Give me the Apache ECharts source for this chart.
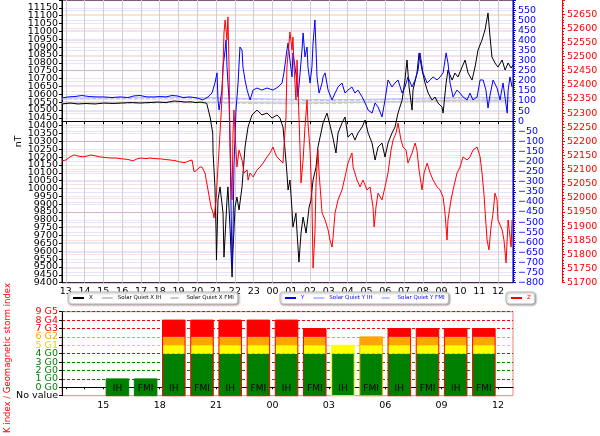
<!DOCTYPE html>
<html><head><meta charset="utf-8">
<script src="https://cdn.jsdelivr.net/npm/echarts@6/dist/echarts.min.js"></script>
<style>html,body{margin:0;padding:0;background:#fff}#c{width:600px;height:436px}</style>
</head><body><div id="c"></div>
<script>
// ---- data (hours since day-1 midnight; 24 = 00 next day) ----
const hourTicks = [13,14,15,16,17,18,19,20,21,22,23,24,25,26,27,28,29,30,31,32,33,34,35,36];
const kTickLabels = [15,18,21,24,27,30,33,36];
// left-axis tick labels (split in two interleaved sets so none get dropped)
const leftLabelsA = [9400,9500,9600,9700,9800,9900,10000,10100,10200,10300,10400,10500,10600,10700,10800,10900,11000,11100];
const leftLabelsB = [9450,9550,9650,9750,9850,9950,10050,10150,10250,10350,10450,10550,10650,10750,10850,10950,11050,11150];
const kLabelsA = [-1,1,3,5,7,9];
const kLabelsB = [0,2,4,6,8];

const xTimes = [12.80,13.23,13.65,14.08,14.56,15.04,15.51,15.99,16.47,16.95,17.43,17.91,18.33,18.76,19.08,19.40,19.61,19.93,20.20,20.50,20.68,20.82,20.84,20.94,21.00,21.02,21.10,21.21,21.37,21.42,21.58,21.63,21.74,21.85,21.90,22.01,22.11,22.22,22.38,22.54,22.70,22.91,23.18,23.44,23.71,23.98,24.24,24.40,24.56,24.67,24.77,24.83,24.93,25.04,25.09,25.25,25.31,25.41,25.52,25.63,25.79,25.95,26.05,26.16,26.32,26.42,26.58,26.69,26.90,27.06,27.22,27.38,27.49,27.70,27.86,28.02,28.23,28.39,28.55,28.77,28.93,29.09,29.30,29.46,29.62,29.83,29.99,30.15,30.36,30.52,30.68,30.90,31.05,31.16,31.27,31.43,31.48,31.69,31.80,31.96,32.12,32.28,32.49,32.65,32.81,33.02,33.08,33.24,33.34,33.56,33.71,33.87,34.09,34.25,34.41,34.62,34.78,34.94,35.15,35.31,35.47,35.58,35.68,35.84,36.00,36.22,36.38,36.54,36.70,36.80];
const xVals = [10538,10544,10538,10541,10538,10544,10541,10544,10547,10544,10547,10550,10547,10557,10554,10550,10552,10547,10550,10542,10455,10353,10226,10010,9716,9544,9926,10010,9843,9563,9926,10010,9754,9436,9608,9882,9945,9863,10010,10264,10391,10468,10499,10468,10480,10448,10468,10448,10391,10245,10098,9990,10054,9863,9754,9843,9716,9531,9716,9818,9716,9882,9926,10054,10136,10264,10353,10417,10480,10404,10321,10226,10353,10417,10455,10327,10353,10308,10353,10391,10436,10353,10289,10181,10264,10289,10200,10289,10353,10391,10480,10563,10690,10818,10646,10499,10627,10735,10862,10754,10671,10608,10563,10582,10544,10519,10480,10671,10754,10690,10735,10710,10773,10818,10735,10690,10773,10882,10945,11009,11117,10964,10837,10799,10773,10818,10754,10799,10767,10786];

const yTimes = [12.80,13.12,13.49,13.86,14.24,14.61,15.04,15.46,15.89,16.31,16.63,16.95,17.32,17.70,18.02,18.33,18.65,18.92,19.24,19.61,19.98,20.30,20.57,20.78,20.94,21.05,21.10,21.16,21.31,21.37,21.48,21.53,21.58,21.69,21.74,21.79,21.85,21.90,21.95,22.06,22.17,22.27,22.38,22.43,22.54,22.65,22.81,22.97,23.18,23.44,23.71,24.03,24.30,24.51,24.61,24.77,24.83,24.93,25.04,25.09,25.20,25.31,25.36,25.47,25.57,25.63,25.73,25.84,25.89,26.00,26.10,26.16,26.26,26.32,26.37,26.48,26.64,26.69,26.80,26.96,27.17,27.33,27.49,27.70,27.86,28.02,28.23,28.39,28.55,28.77,28.93,29.09,29.30,29.46,29.62,29.83,29.99,30.15,30.36,30.52,30.68,30.90,31.05,31.21,31.43,31.59,31.75,31.85,32.01,32.23,32.39,32.55,32.76,32.92,33.08,33.24,33.34,33.45,33.61,33.82,33.98,34.14,34.36,34.51,34.67,34.89,35.05,35.21,35.36,35.47,35.58,35.74,35.95,36.11,36.27,36.49,36.54,36.64,36.75];
const yVals = [115,120,122,127,122,120,120,117,120,117,125,127,120,120,122,120,127,125,117,120,115,105,120,139,189,239,105,55,154,268,352,402,268,105,-93,-390,-722,-554,-227,55,189,367,352,268,204,154,105,154,164,154,164,154,169,189,239,352,387,303,219,338,268,189,120,239,352,437,318,367,268,189,268,387,501,352,219,139,189,219,239,154,105,139,169,189,139,154,169,139,154,120,90,55,40,90,70,21,105,204,169,189,204,139,169,219,169,204,253,338,239,189,204,219,204,219,239,338,288,189,120,154,139,120,105,139,105,120,204,204,154,65,130,204,164,105,189,40,154,219,169];

const zTimes = [12.80,13.01,13.23,13.44,13.65,13.92,14.13,14.34,14.61,14.82,15.09,15.35,15.67,15.99,16.31,16.58,16.79,17.00,17.27,17.48,17.75,18.02,18.28,18.55,18.81,19.08,19.35,19.56,19.72,19.83,19.98,20.14,20.25,20.41,20.57,20.73,20.84,20.89,21.00,21.10,21.21,21.31,21.37,21.42,21.48,21.58,21.63,21.69,21.71,21.74,21.79,21.85,21.90,21.95,22.06,22.11,22.22,22.38,22.49,22.65,22.70,22.81,22.97,23.18,23.34,23.50,23.71,23.87,24.03,24.14,24.24,24.40,24.56,24.61,24.72,24.77,24.88,24.93,25.04,25.09,25.15,25.25,25.31,25.41,25.47,25.52,25.63,25.73,25.84,25.89,26.00,26.10,26.16,26.26,26.32,26.42,26.48,26.64,26.80,26.96,27.06,27.17,27.22,27.33,27.49,27.70,27.86,28.02,28.23,28.29,28.50,28.66,28.82,29.03,29.19,29.35,29.41,29.51,29.62,29.83,29.99,30.15,30.31,30.42,30.58,30.68,30.84,30.95,31.11,31.21,31.43,31.59,31.69,31.80,31.96,32.07,32.23,32.39,32.55,32.76,32.92,33.08,33.18,33.29,33.34,33.50,33.61,33.82,33.98,34.14,34.36,34.51,34.67,34.89,35.05,35.15,35.26,35.31,35.42,35.52,35.63,35.74,35.84,35.95,36.00,36.22,36.32,36.43,36.54,36.70,36.75];
const zVals = [52131,52134,52145,52152,52148,52145,52148,52152,52148,52145,52143,52141,52141,52138,52136,52131,52138,52141,52139,52141,52139,52138,52136,52134,52132,52127,52125,52131,52134,52092,52099,52109,52109,52088,52028,51968,51947,51929,51993,52109,52230,52346,52463,52583,52629,52559,52640,52463,52346,52205,52088,51993,52230,52311,52169,52109,52169,52134,52088,52099,52063,52088,52074,52099,52109,52123,52145,52159,52180,52159,52145,52134,52123,52180,52286,52463,52548,52587,52523,52569,52463,52346,52488,52286,52169,52053,52134,52251,52346,52265,52169,51993,51752,51876,52053,52169,52088,51947,51922,51887,51851,51826,51858,51947,51993,52028,52074,52123,52159,52109,52063,52039,52063,52028,52039,51968,51897,51968,52017,51993,52039,52088,52169,52205,52230,52265,52205,52180,52169,52123,52159,52194,52169,52099,52028,52088,52123,52088,52063,52039,52028,52003,51947,51851,51922,51993,52028,52088,52109,52145,52134,52145,52169,52180,52145,52088,52010,51957,51851,51816,51897,51947,52017,51993,51922,51887,51851,51770,51922,51826,51922];

const quietTimes = [12.8,15,17,19,21,23,25,27,29,31,33,35,36.8];
const quietXIH  = [10545,10546,10548,10550,10548,10545,10543,10545,10550,10555,10560,10562,10560];
const quietXFMI = [10540,10541,10543,10545,10544,10541,10539,10541,10546,10551,10555,10557,10556];
const quietYIH  = [115,116,118,118,116,112,108,106,108,112,116,118,117];
const quietYFMI = [110,111,113,114,112,108,104,102,104,108,112,114,113];

// K index: slot start hour, value, source
const kStart  = [15,16.5,18,19.5,21,22.5,24,25.5,27,28.5,30,31.5,33,34.5];
const kValues = [1,1,8,8,8,8,8,7,5,6,7,7,7,7];
const kSource = ['IH','FMI','IH','FMI','IH','FMI','IH','FMI','IH','FMI','IH','FMI','IH','FMI'];
const kLabels = ['No value','0 G0','1 G0','2 G0','3 G0','4 G0','5 G1','6 G2','7 G3','8 G4','9 G5'];

// ---- styling ----
const GREEN='#008000', YELLOW='#ffff00', ORANGE='#ffa500', RED='#ff0000';
const kLabelColors = ['#000',GREEN,GREEN,GREEN,GREEN,GREEN,'#e6d800',ORANGE,RED,RED,RED];
const kLineColors = ['rgba(0,0,0,0)',GREEN,GREEN,GREEN,GREEN,GREEN,'#f0e000',ORANGE,RED,RED,RED];
const FONT = 'DejaVu Sans';
const pairs = (t, v) => t.map((h, i) => [h, v[i]]);
const hh = v => String(((Math.round(v) % 24) + 24) % 24).padStart(2, '0');
const plain = v => String(v).replace('-', '\u2212');
const kFmt = v => '{c' + (Math.round(v) + 1) + '|' + kLabels[Math.round(v) + 1] + '}';

const rich = {};
kLabels.forEach((l, i) => { rich['c' + i] = {color: kLabelColors[i], fontSize: 9.5, fontFamily: FONT}; });

const chart = echarts.init(document.getElementById('c'), null, {renderer: 'canvas'});
const legendBase = {
  orient: 'horizontal', top: 292, padding: [3, 4], itemWidth: 11, itemHeight: 6, itemGap: 8,
  backgroundColor: '#fff', borderColor: '#bbb', borderWidth: 1, borderRadius: 3,
  shadowBlur: 2, shadowColor: 'rgba(0,0,0,0.35)', shadowOffsetX: 1, shadowOffsetY: 1,
  selectedMode: false, itemStyle: {opacity: 0}
};
const lineSeries = (name, t, v, yi, color, width, type, z) => ({
  name, type: 'line', xAxisIndex: 0, yAxisIndex: yi, data: pairs(t, v),
  showSymbol: false, symbol: 'none', animation: false, z: z,
  lineStyle: {color, width, type}, itemStyle: {color}
});
const overlayAxis = (gridIndex, min, max, labels, labelOpt) => ({
  type: 'value', gridIndex, position: 'left', min, max,
  axisLine: {show: false}, axisTick: {show: false}, splitLine: {show: false},
  axisLabel: Object.assign({customValues: labels, hideOverlap: false}, labelOpt)
});

const leftLabelStyle = {fontSize: 9.5, color: '#000', margin: 4, formatter: plain, fontFamily: FONT};
const kLabelStyle = {margin: 4, rich, formatter: kFmt};

const option = {
  animation: false,
  backgroundColor: '#fff',
  textStyle: {fontFamily: FONT},
  grid: [
    {left: 62, top: 0, width: 451, height: 282.7, show: true, borderColor: '#000', borderWidth: 1, backgroundColor: 'transparent', containLabel: false, outerBoundsMode: 'none'},
    {left: 62, top: 311.7, width: 451, height: 84, show: true, borderColor: '#f08080', borderWidth: 1, backgroundColor: 'transparent', containLabel: false, outerBoundsMode: 'none'}
  ],
  legend: [
    Object.assign({}, legendBase, {left: 68, data: ['X', 'Solar Quiet X IH', 'Solar Quiet X FMI'], textStyle: {fontSize: 5.5, color: '#000', fontFamily: FONT}}),
    Object.assign({}, legendBase, {left: 280, data: ['Y', 'Solar Quiet Y IH', 'Solar Quiet Y FMI'], textStyle: {fontSize: 5.5, color: '#0000ff', fontFamily: FONT}}),
    Object.assign({}, legendBase, {left: 506, data: ['Z'], textStyle: {fontSize: 5.5, color: '#ff0000', fontFamily: FONT}})
  ],
  xAxis: [
    {type: 'value', gridIndex: 0, min: 12.8, max: 36.8,
     axisLine: {show: true, lineStyle: {color: '#000'}},
     axisTick: {show: true, length: 3, customValues: hourTicks, lineStyle: {color: '#000'}},
     axisLabel: {customValues: hourTicks, formatter: hh, fontSize: 9.5, color: '#000', margin: 4, fontFamily: FONT, hideOverlap: false},
     splitLine: {show: true, lineStyle: {color: '#cfcfcf', width: 1}}},
    {type: 'value', gridIndex: 1, min: 12.8, max: 36.8,
     axisLine: {show: true, lineStyle: {color: '#000'}},
     axisTick: {show: true, length: 2, customValues: hourTicks, lineStyle: {color: '#000'}},
     axisLabel: {customValues: kTickLabels, formatter: hh, fontSize: 9.5, color: '#000', margin: 5, fontFamily: FONT, hideOverlap: false},
     splitLine: {show: false}}
  ],
  yAxis: [
    {type: 'value', gridIndex: 0, position: 'left', min: 9400, max: 11200, interval: 50,
     name: 'nT', nameLocation: 'middle', nameGap: 38, nameRotate: 90, nameMoveOverlap: false,
     nameTextStyle: {fontSize: 9.5, color: '#000', fontFamily: FONT},
     axisLine: {show: true, lineStyle: {color: '#000'}},
     axisTick: {show: true, length: 3, lineStyle: {color: '#000'}},
     axisLabel: Object.assign({customValues: leftLabelsA, hideOverlap: false}, leftLabelStyle),
     splitLine: {show: true, lineStyle: {color: 'rgba(150,60,150,0.14)', width: 1}}},
    {type: 'value', gridIndex: 0, position: 'right', min: -800, max: 600, interval: 50,
     axisLine: {show: true, lineStyle: {color: '#0000ff'}},
     axisTick: {show: true, length: 3, lineStyle: {color: '#0000ff'}},
     minorTick: {show: true, splitNumber: 5, length: 2, lineStyle: {color: '#0000ff'}},
     axisLabel: {fontSize: 9.5, lineHeight: 8, color: '#0000ff', margin: 5, showMinLabel: true, showMaxLabel: false, hideOverlap: false, formatter: plain, fontFamily: FONT},
     splitLine: {show: true, lineStyle: {color: 'rgba(0,0,255,0.11)', width: 1}}},
    {type: 'value', gridIndex: 0, position: 'right', offset: 49, min: 51700, max: 52700, interval: 50,
     axisLine: {show: true, lineStyle: {color: '#ff0000'}},
     axisTick: {show: true, length: 3, lineStyle: {color: '#ff0000'}},
     minorTick: {show: true, splitNumber: 5, length: 2, lineStyle: {color: '#ff0000'}},
     axisLabel: {fontSize: 9.5, lineHeight: 8, color: '#ff0000', margin: 5, showMinLabel: true, showMaxLabel: false, hideOverlap: false, formatter: plain, fontFamily: FONT},
     splitLine: {show: true, lineStyle: {color: 'rgba(255,0,0,0.13)', width: 1}}},
    {type: 'value', gridIndex: 1, min: -1, max: 9, interval: 1,
     axisLine: {show: true, lineStyle: {color: '#000'}},
     axisTick: {show: true, length: 3, lineStyle: {color: '#000'}},
     axisLabel: Object.assign({customValues: kLabelsA, hideOverlap: false}, kLabelStyle),
     splitLine: {show: true, showMinLine: true, showMaxLine: true, lineStyle: {color: kLineColors, width: 1, type: [3, 2]}}},
    overlayAxis(0, 9400, 11200, leftLabelsB, leftLabelStyle),
    overlayAxis(1, -1, 9, kLabelsB, kLabelStyle)
  ],
  graphic: [
    {type: 'text', x: 8, y: 358, rotation: Math.PI / 2,
     style: {text: 'K index / Geomagnetic storm index', fill: '#ff0000', font: '8.5px "DejaVu Sans"', align: 'center', verticalAlign: 'middle'}}
  ],
  series: [
    lineSeries('Solar Quiet X IH', quietTimes, quietXIH, 0, '#c8c8c8', 1, 'solid', 2),
    lineSeries('Solar Quiet X FMI', quietTimes, quietXFMI, 0, '#c8c8c8', 1, 'dashed', 2),
    lineSeries('Solar Quiet Y IH', quietTimes, quietYIH, 1, '#b8c0ff', 1, 'solid', 2),
    lineSeries('Solar Quiet Y FMI', quietTimes, quietYFMI, 1, '#b8c0ff', 1, 'dashed', 2),
    lineSeries('X', xTimes, xVals, 0, '#000000', 1, 'solid', 3),
    lineSeries('Y', yTimes, yVals, 1, '#0000ff', 1, 'solid', 4),
    lineSeries('Z', zTimes, zVals, 2, '#ff0000', 1, 'solid', 5),
    {
      name: 'K', type: 'custom', xAxisIndex: 1, yAxisIndex: 3,
      data: kStart.map((s, i) => [s, kValues[i], i]),
      renderItem: function (params, api) {
        const s = api.value(0), val = api.value(1), idx = api.value(2);
        const a = s + 0.15, b = s + 1.35;
        const bounds = [-1, 4, 5, 6, 9];
        const cols = [GREEN, YELLOW, ORANGE, RED];
        const children = [];
        let topCol = GREEN;
        for (let i = 0; i < 4; i++) {
          const lo = bounds[i], hi = Math.min(bounds[i + 1], val);
          if (hi > lo) {
            const p0 = api.coord([a, hi]), p1 = api.coord([b, lo]);
            children.push({type: 'rect', shape: {x: p0[0], y: p0[1], width: p1[0] - p0[0], height: p1[1] - p0[1]}, style: {fill: cols[i]}});
            topCol = cols[i];
          }
        }
        const q0 = api.coord([a, val]), q1 = api.coord([b, -1]);
        children.push({type: 'rect', shape: {x: q0[0], y: q0[1], width: q1[0] - q0[0], height: q1[1] - q0[1]}, style: {fill: null, stroke: topCol, lineWidth: 1}});
        const t = api.coord([(a + b) / 2, -0.2]);
        children.push({type: 'text', x: t[0], y: t[1], style: {text: kSource[idx], fill: '#000', font: '9px "DejaVu Sans"', align: 'center', verticalAlign: 'middle'}});
        return {type: 'group', children};
      },
      z: 3
    }
  ]
};
chart.setOption(option);
</script></body></html>
